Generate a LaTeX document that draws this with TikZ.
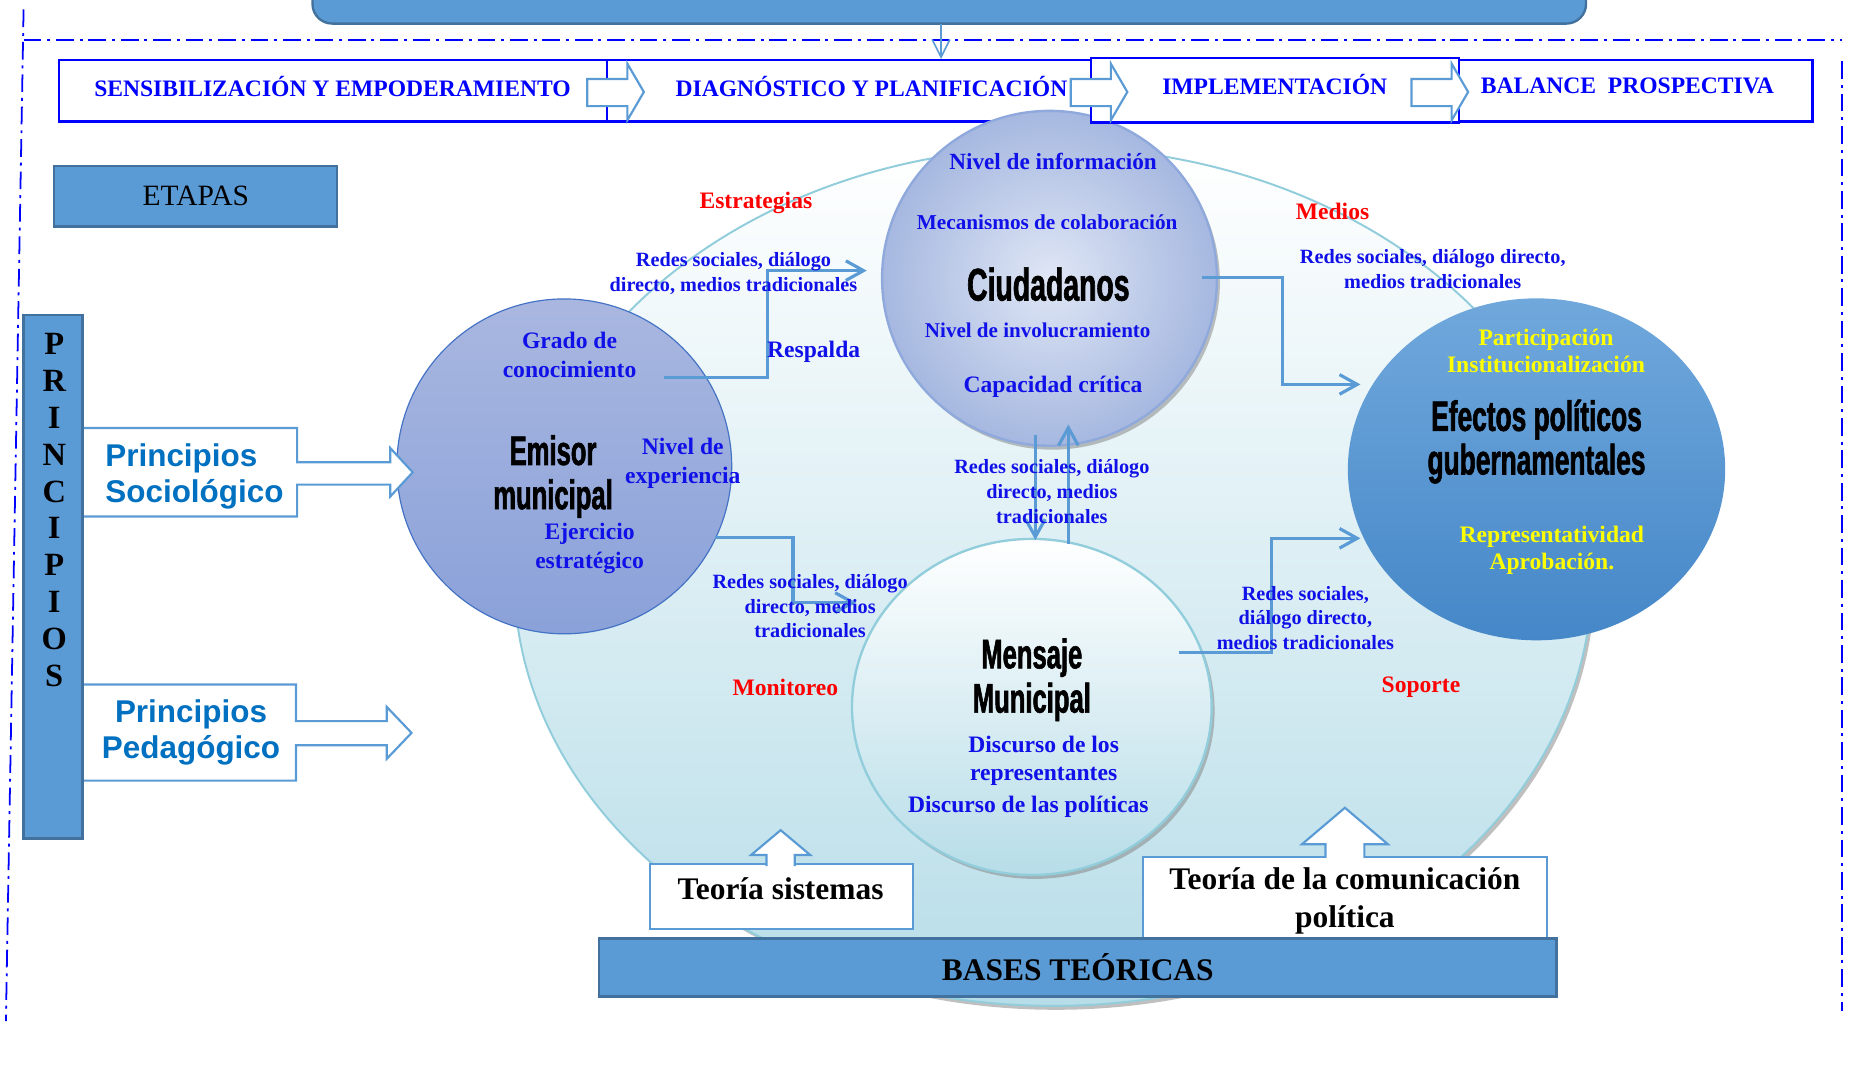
\documentclass[tikz,border=0pt]{standalone}
\usepackage{fontspec}
\setmainfont{Liberation Serif}
\newfontfamily\arialfont{Liberation Sans}
\newfontfamily\agencyfont[FakeStretch=0.62, FakeBold=1.4]{Liberation Sans}
\usetikzlibrary{positioning, arrows.meta, shapes.geometric, shadows, calc}

\definecolor{stageblue}{HTML}{0000FF}
\definecolor{txtblue}{HTML}{1010E8}
\definecolor{lineblue}{HTML}{5B9BD5}
\definecolor{boxfill}{HTML}{5B9BD5}
\definecolor{boxdraw}{HTML}{41719C}
\definecolor{princ}{HTML}{0070C0}
\definecolor{yellab}{HTML}{FFFF00}
\definecolor{ellbot}{HTML}{B7DDE8}
\definecolor{ellline}{HTML}{92CDDC}
\definecolor{emitop}{HTML}{A9B7E0}
\definecolor{emibot}{HTML}{8AA1D9}
\definecolor{emiline}{HTML}{4472C4}
\definecolor{ciudin}{HTML}{DFE6F5}
\definecolor{ciudout}{HTML}{A6B8E0}
\definecolor{ciudline}{HTML}{8FA9DC}
\definecolor{efetop}{HTML}{70A8DC}
\definecolor{efebot}{HTML}{4587C8}

\tikzset{
  frameline/.style={draw=stageblue, line width=0.9pt, dash pattern=on 9pt off 3pt on 1.5pt off 3pt},
  darkbox/.style={draw=boxdraw, fill=boxfill, line width=1.2pt},
  plainbox/.style={draw=lineblue, fill=white, line width=1.1pt},
  stagebox/.style={draw=stageblue, fill=white, line width=1.2pt, minimum height=31.2pt},
  stagetxt/.style={text=stageblue, font=\bfseries\fontsize{12}{14}\selectfont},
  hollow/.style={draw=lineblue, fill=white, line width=1.1pt},
  link/.style={draw=lineblue, line width=1.6pt, -{Straight Barb[length=9pt,width=10pt]}},
  thinlink/.style={draw=lineblue, line width=0.8pt, -{Straight Barb[length=9pt,width=9pt]}},
  bluetxt/.style={text=txtblue, font=\bfseries\fontsize{12}{14.4}\selectfont, align=center},
  labtxt/.style={text=txtblue, font=\bfseries\fontsize{10.3}{12.6}\selectfont, align=center},
  redtxt/.style={text=red, font=\bfseries\fontsize{12}{14}\selectfont},
  yeltxt/.style={text=yellab, font=\bfseries\fontsize{12}{13.8}\selectfont, align=center},
  titletxt/.style={font=\agencyfont\bfseries\fontsize{21}{22.5}\selectfont, align=center},
  theorytxt/.style={font=\bfseries\fontsize{16}{19.2}\selectfont, align=center},
  princtxt/.style={text=princ, font=\arialfont\bfseries\fontsize{16}{18.6}\selectfont, inner sep=0pt},
  bigell/.style={ellipse, inner sep=0pt, minimum width=548.4pt, minimum height=436.8pt,
    top color=white, bottom color=ellbot, draw=ellline, line width=1pt,
    drop shadow={shadow xshift=1.5pt, shadow yshift=-2pt, fill=black!50, opacity=0.5}},
  emisorc/.style={circle, inner sep=0pt, minimum size=170.4pt,
    top color=emitop, bottom color=emibot, draw=emiline, line width=0.6pt},
  ciudc/.style={circle, inner sep=0pt, minimum size=170.4pt,
    inner color=ciudin, outer color=ciudout, draw=ciudline, line width=1.2pt,
    drop shadow={shadow xshift=1.5pt, shadow yshift=-2pt, fill=black!50, opacity=0.5}},
  mensc/.style={ellipse, inner sep=0pt, minimum width=183pt, minimum height=171pt,
    top color=white, bottom color=ellbot, draw=ellline, line width=1.2pt,
    drop shadow={shadow xshift=1.5pt, shadow yshift=-2pt, fill=black!50, opacity=0.5}},
  efecc/.style={ellipse, inner sep=0pt, minimum width=192pt, minimum height=174pt,
    top color=efetop, bottom color=efebot}
}

\begin{document}
\begin{tikzpicture}[x=0.6pt, y=-0.6pt]
\useasboundingbox (0,0) rectangle (1568,907);

% marco punteado
\draw[frameline] (20,34) -- (1562,34);
\draw[frameline] (20,8) -- (5,866);
\draw[frameline] (1562,52) -- (1562,857);

% caja superior
\node[darkbox, rounded corners=10pt, minimum width=648pt, minimum height=60pt] (topbox) at (805,-30) {};
\coordinate (topout) at (798,20);

% fondo
\node[bigell] (fondo) at (893,489) {};

% etapas
\node[stagebox, minimum width=279pt] (s1) at (282.5,77) {};
\node[stagetxt] (s1txt) at (282,73) {SENSIBILIZACIÓN Y EMPODERAMIENTO};
\node[stagebox, minimum width=246pt] (s2) at (720,77) {};
\node[stagetxt] (s2txt) at (739,73) {DIAGNÓSTICO Y PLANIFICACIÓN};
\node[ciudc] (ciud) at (890,236) {};
\node[stagebox, minimum width=187.2pt, minimum height=33pt] (s3) at (1081,76.5) {};
\node[stagetxt] (s3txt) at (1081,72) {IMPLEMENTACIÓN};
\node[stagebox, minimum width=180pt] (s4) at (1387,77) {};
\node[stagetxt] (s4txt) at (1380,73) {BALANCE \ PROSPECTIVA};
\foreach \x in {498,908,1197}
  \draw[hollow] (\x,67) -- ({\x+34},67) -- ({\x+34},54) -- ({\x+48},78) -- ({\x+34},102) -- ({\x+34},90) -- (\x,90) -- cycle;
\draw[thinlink] (topout) -- (topout |- s2.north);

% circulos
\node[emisorc] (emisor) at (478.5,395.5) {};
\node[mensc] (mens) at (875,599.5) {};
\node[efecc] (efec) at (1303,398) {};

% conectores
\coordinate (out1) at (563,320);
\coordinate (tip1) at ($(ciud.west)+(-12,-6.5)$);
\draw[link] (out1) -- ++(88,0) |- (tip1);
\coordinate (out2) at (1019,235);
\coordinate (tip2) at ($(efec.west)+(11,-72)$);
\draw[link] (out2) -- ++(68.5,0) |- (tip2);
\coordinate (out3) at (606,456);
\coordinate (tip3) at ($(mens.west)+(4.5,-88.5)$);
\draw[link] (out3) -- ++(66.5,0) |- (tip3);
\coordinate (out4) at (1000,553.5);
\coordinate (tip4) at ($(efec.west)+(11,58.5)$);
\draw[link] (out4) -- ++(78,0) |- (tip4);
\draw[link] ($(ciud.south)+(-12,-10)$) -- ($(mens.north)+(3,2)$);
\draw[link] ($(mens.north)+(31,5)$) -- ($(ciud.south)+(16,-19)$);

% textos emisor
\node[bluetxt] (grado) at (483,301) {Grado de\\conocimiento};
\node[titletxt] (emititle) at (469,404) {Emisor\\municipal};
\node[bluetxt] (nivexp) at (579,393) {Nivel de\\experiencia};
\node[bluetxt] (ejer) at (500,465) {Ejercicio\\estratégico};

% textos ciudadanos
\node[bluetxt, font=\bfseries\fontsize{11.8}{14}\selectfont] (nivinf) at (893,137) {Nivel de información};
\begin{scope}
  \clip (740,170) rectangle (1040,193.5);
  \node[bluetxt, font=\bfseries\fontsize{10.8}{13}\selectfont, anchor=base] (mecan) at (888,195) {Mecanismos de colaboración};
\end{scope}
\node[titletxt, font=\agencyfont\bfseries\fontsize{23.3}{25}\selectfont] (ciudtitle) at (889,241) {Ciudadanos};
\node[bluetxt, font=\bfseries\fontsize{10.7}{13}\selectfont] (nivinv) at (880,280) {Nivel de involucramiento};
\node[bluetxt] (capac) at (893,328) {Capacidad crítica};

% textos efectos
\node[yeltxt] (partic) at (1311,297.5) {Participación\\Institucionalización};
\node[titletxt, font=\agencyfont\bfseries\fontsize{21.6}{22.2}\selectfont] (efetitle) at (1303,374.5) {Efectos políticos\\gubernamentales};
\node[yeltxt] (repres) at (1316,467) {Representatividad\\Aprobación.};

% textos mensaje
\node[titletxt] (menstitle) at (875,576.5) {Mensaje\\Municipal};
\node[bluetxt] (discrep) at (885,645) {Discurso de los\\representantes};
\node[bluetxt] (discpol) at (872,684) {Discurso de las políticas};

% etiquetas de conectores
\node[labtxt] (lab1) at (622,232) {Redes sociales, diálogo\\directo, medios tradicionales};
\node[labtxt] (lab2) at (1215,228) {Redes sociales, diálogo directo,\\medios tradicionales};
\node[labtxt] (lab3) at (687,514) {Redes sociales, diálogo\\directo, medios\\tradicionales};
\node[labtxt] (lab4) at (1107,524) {Redes sociales,\\diálogo directo,\\medios tradicionales};
\node[labtxt] (lab5) at (892,417) {Redes sociales, diálogo\\directo, medios\\tradicionales};
\node[redtxt] (estrat) at (641,172) {Estrategias};
\node[redtxt] (medios) at (1130,179) {Medios};
\node[redtxt] (monit) at (666,583) {Monitoreo};
\node[redtxt] (soporte) at (1205,583) {Soporte};
\node[bluetxt] (respalda) at (690,298) {Respalda};

% izquierda
\node[darkbox, minimum width=144pt, minimum height=30.6pt, font=\fontsize{15}{18}\selectfont] (etapas) at (166,166.5) {ETAPAS};
\draw[hollow] (70,363) -- (252,363) -- (252,392) -- (331,392) -- (331,380) -- (350,400.5) -- (331,421) -- (331,411) -- (252,411) -- (252,438) -- (70,438) -- cycle;
\node[princtxt, anchor=west, align=left] (psoc) at (89,404) {Principios\\Sociológico};
\draw[hollow] (70,580.5) -- (251,580.5) -- (251,611.5) -- (328,611.5) -- (328,599.5) -- (349,621.5) -- (328,643.5) -- (328,632) -- (251,632) -- (251,662) -- (70,662) -- cycle;
\node[princtxt, align=center] (pped) at (162,621) {Principios\\Pedagógico};
\node[darkbox, minimum width=30pt, minimum height=266.4pt] (princbar) at (45,489) {};
\foreach \l [count=\i] in {P,R,I,N,C,I,P,I,O,S}
  \node[font=\bfseries\fontsize{16.5}{18}\selectfont] (pl\i) at (46,{292+31.2*(\i-1)}) {\l};

% bases teoricas
\node[plainbox, minimum width=133.8pt, minimum height=33pt] (tsis) at (662.5,760.5) {};
\node[theorytxt] (tsistxt) at (662,754) {Teoría sistemas};
\draw[hollow] (650,734.5) -- (650,725) -- (637,725) -- (662,704) -- (687,725) -- (674,725) -- (674,734.5);
\node[plainbox, theorytxt, minimum width=205.8pt, minimum height=45pt] (tcom) at (1140.5,764) {Teoría de la comunicación\\política};
\draw[hollow] (1124,727.5) -- (1124,716) -- (1104,716) -- (1140.5,685) -- (1177,716) -- (1157,716) -- (1157,727.5);
\node[darkbox, theorytxt, minimum width=487.2pt, minimum height=29.4pt] (bases) at (914,820.5) {BASES TEÓRICAS};
\end{tikzpicture}
\end{document}
